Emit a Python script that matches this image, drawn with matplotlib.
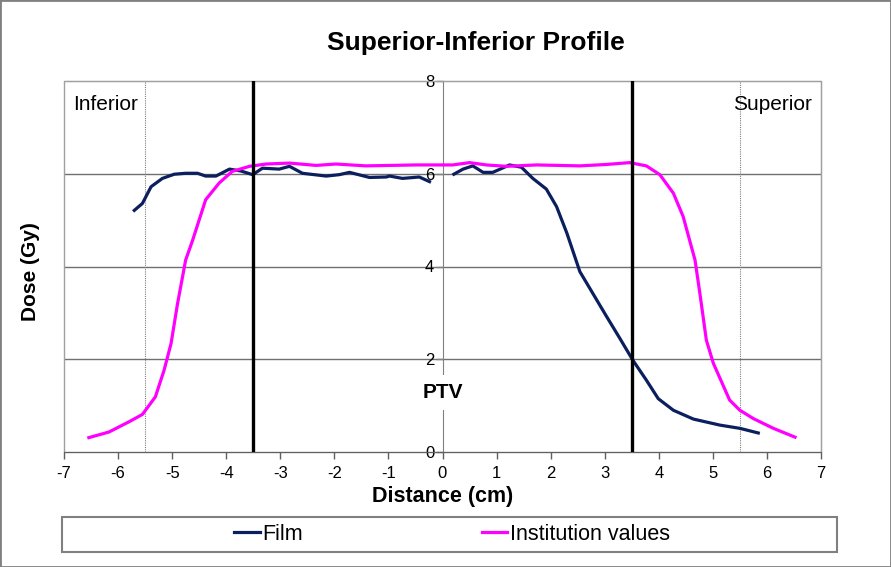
# Superior-Inferior dose profile: film vs institution values
import matplotlib.pyplot as plt
from matplotlib.patches import Rectangle

plt.rcParams['font.family'] = ['Liberation Sans', 'DejaVu Sans']
plt.rcParams['axes.unicode_minus'] = False

# Film measurement (two segments, gap around the centre)
film_left_x = [-5.70, -5.55, -5.39, -5.18, -4.96, -4.75, -4.53, -4.38, -4.19, -3.94,
               -3.73, -3.51, -3.33, -3.02, -2.83, -2.59, -2.15, -1.91, -1.72, -1.35,
               -1.04, -0.98, -0.74, -0.43, -0.24]
film_left_y = [5.21, 5.36, 5.72, 5.90, 5.99, 6.01, 6.01, 5.95, 5.95, 6.10,
               6.06, 5.98, 6.12, 6.10, 6.16, 6.01, 5.95, 5.98, 6.03, 5.92,
               5.93, 5.95, 5.90, 5.93, 5.83]
film_right_x = [0.21, 0.38, 0.56, 0.75, 0.93, 1.24, 1.46, 1.67, 1.92, 2.11,
                2.30, 2.54, 2.78, 3.03, 3.28, 3.52, 3.77, 3.99, 4.27, 4.64,
                5.13, 5.50, 5.84]
film_right_y = [5.99, 6.10, 6.17, 6.03, 6.03, 6.19, 6.14, 5.90, 5.67, 5.29,
                4.72, 3.89, 3.42, 2.93, 2.45, 1.98, 1.55, 1.15, 0.90, 0.71,
                0.58, 0.51, 0.41]

# Institution values
inst_x = [-6.54, -6.17, -5.80, -5.55, -5.31, -5.15, -5.02, -4.90, -4.75, -4.62,
          -4.38, -4.13, -3.89, -3.57, -3.26, -2.83, -2.34, -1.97, -1.42, -0.49,
          0.19, 0.50, 0.81, 1.18, 1.74, 2.54, 3.03, 3.46, 3.77, 4.02,
          4.27, 4.45, 4.67, 4.76, 4.88, 5.01, 5.31, 5.50, 5.75, 6.12, 6.52]
inst_y = [0.31, 0.43, 0.65, 0.81, 1.19, 1.76, 2.34, 3.20, 4.14, 4.57,
          5.44, 5.80, 6.05, 6.16, 6.21, 6.23, 6.18, 6.21, 6.17, 6.19,
          6.19, 6.24, 6.19, 6.16, 6.19, 6.17, 6.20, 6.24, 6.17, 5.98,
          5.58, 5.08, 4.14, 3.42, 2.41, 1.91, 1.12, 0.90, 0.72, 0.51, 0.32]

ptv_edges = [-3.5, 3.5]
margin_edges = [-5.5, 5.5]

film_color = '#0b1f5e'
inst_color = '#ff00ff'

fig = plt.figure(figsize=(8.91, 5.67), dpi=100)
ax = fig.add_axes([64 / 891, 1 - 452 / 567, (821 - 64) / 891, (452 - 81) / 567])

ax.set_xlim(-7, 7)
ax.set_ylim(0, 8)

# horizontal grid
for g in [2, 4, 6]:
    ax.axhline(g, color='#707070', lw=1, zorder=1)

for m in margin_edges:
    ax.axvline(m, color='#808080', lw=0.8, ls=(0, (1, 1)), zorder=1)
for e in ptv_edges:
    ax.axvline(e, color='black', lw=2.4, zorder=4)

ax.plot(film_left_x, film_left_y, color=film_color, lw=2.3, zorder=3, label='Film')
ax.plot(film_right_x, film_right_y, color=film_color, lw=2.3, zorder=3)
ax.plot(inst_x, inst_y, color=inst_color, lw=2.3, zorder=3, label='Institution values')

# spines: y axis sits at x = 0, frame drawn separately
for s in ['top', 'right']:
    ax.spines[s].set_color('#a0a0a0')
ax.spines['left'].set_position(('data', 0))
ax.spines['left'].set_color('#808080')
ax.spines['bottom'].set_color('#606060')
ax.spines['left'].set_zorder(2)
ax.add_patch(Rectangle((0, 0), 1, 1, transform=ax.transAxes, fill=False,
                       edgecolor='#a0a0a0', lw=1, zorder=1, clip_on=False))

ax.set_xticks(range(-7, 8))
ax.set_yticks([0, 2, 4, 6, 8])
ax.tick_params(axis='x', direction='out', length=5, width=1, color='#606060',
               labelsize=12, pad=5)
ax.tick_params(axis='y', direction='out', length=5, width=1, color='#808080',
               labelsize=12, pad=1)

ax.set_xlabel('Distance (cm)', fontsize=15.5, fontweight='bold', labelpad=4)
fig.text(31 / 891, 1 - 272 / 567, 'Dose (Gy)', rotation=90, fontsize=15,
         fontweight='bold', ha='center', va='center')
fig.text(476 / 891, 1 - 43 / 567, 'Superior-Inferior Profile', fontsize=19,
         fontweight='bold', ha='center', va='center')

ax.text(-6.84, 7.5, 'Inferior', fontsize=15, ha='left', va='center')
ax.text(6.84, 7.5, 'Superior', fontsize=15, ha='right', va='center')
ax.text(0, 1.28, 'PTV', fontsize=15, fontweight='bold', ha='center', va='center',
        zorder=5, bbox=dict(facecolor='white', edgecolor='none', pad=6))

# legend box below the plot
fig.patches.append(Rectangle((62 / 891, 1 - 552 / 567), (837 - 62) / 891, 35 / 567,
                             transform=fig.transFigure, fill=False,
                             edgecolor='#808080', lw=1.5))
fig.legend(loc='center', bbox_to_anchor=(452 / 891, 1 - 534.5 / 567), ncol=2,
           frameon=False, fontsize=15.5, handlelength=1.2, handletextpad=0.1,
           columnspacing=8.3)

# outer figure border
fig.patches.append(Rectangle((0, 0), 1, 1, transform=fig.transFigure, fill=False,
                             edgecolor='#808080', lw=2))

plt.savefig('out.png', dpi=100)
